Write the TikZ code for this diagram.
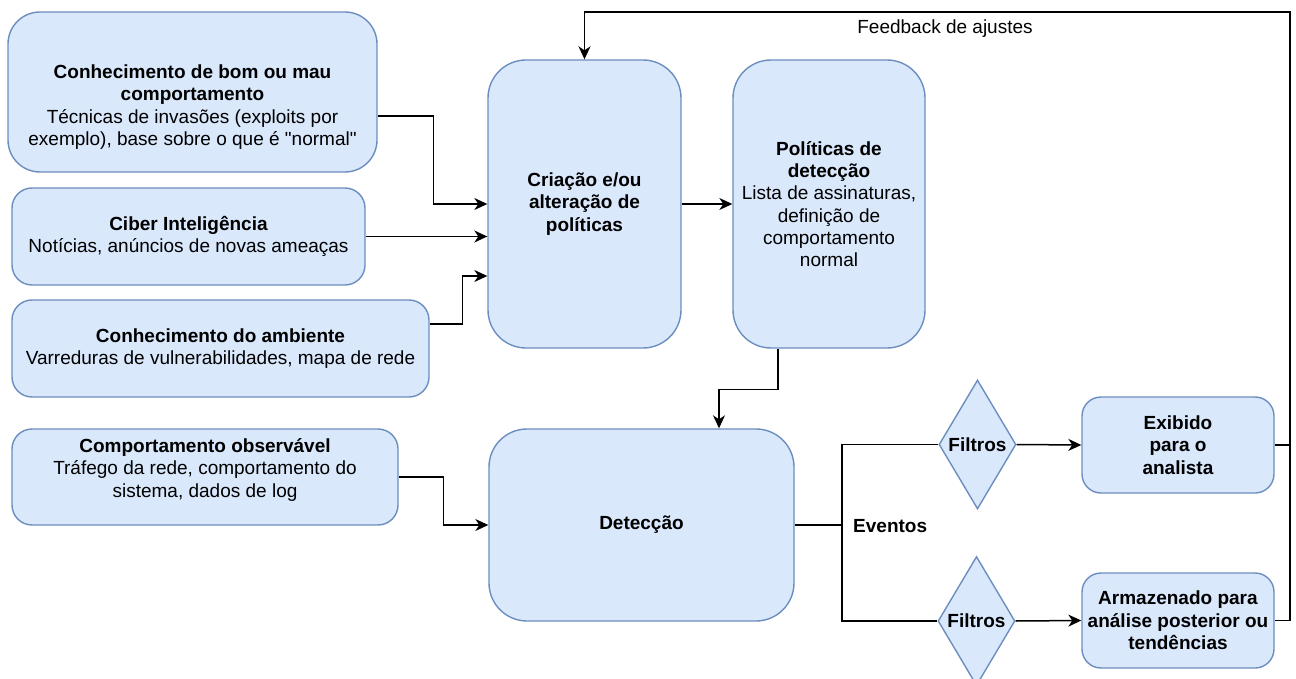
\documentclass[tikz,border=0pt]{standalone}
\usepackage{fontspec}
\setmainfont{Liberation Sans}[Ligatures=TeXOff]
\usetikzlibrary{arrows.meta,shapes.geometric}
\definecolor{bfill}{HTML}{DAE8FC}
\definecolor{bstroke}{HTML}{6C8EBF}
\begin{document}
\begin{tikzpicture}[x=1pt,y=-1pt,
  font=\fontsize{19}{22.3}\selectfont,
  box/.style={draw=bstroke, fill=bfill, line width=1.4pt, align=center, inner sep=0pt},
  dia/.style={draw=bstroke, fill=bfill, line width=1.4pt, shape=diamond, aspect=0.6, inner sep=0pt, minimum width=77pt, minimum height=129pt, font=\fontsize{19}{22.3}\selectfont\bfseries},
  txt/.style={align=center, inner sep=0pt},
  conn/.style={draw=black, line width=1.5pt},
  arr/.style={conn, -{Stealth[length=13pt,width=12pt,inset=4pt]}}]
\useasboundingbox (0,0) rectangle (1296,679);
\clip (0,0) rectangle (1296,679);
\fill[white] (0,0) rectangle (1296,679);

% left boxes
\node[box, rounded corners=32pt, minimum width=369pt, minimum height=160pt] (b1) at (192.5,92) {};
\node[txt] (b1t) at (192.5,107) {\textbf{Conhecimento de bom ou mau}\\\textbf{comportamento}\\Técnicas de invasões (exploits por\\exemplo), base sobre o que é "normal"};
\node[box, rounded corners=20pt, minimum width=353pt, minimum height=97pt] (b2) at (188.5,236.5) {\textbf{Ciber Inteligência}\\ Notícias, anúncios de novas ameaças};
\node[box, rounded corners=20pt, minimum width=417pt, minimum height=97pt] (b3) at (220.5,348.5) {\textbf{Conhecimento do ambiente}\\Varreduras de vulnerabilidades, mapa de rede};
\node[box, rounded corners=20pt, minimum width=386pt, minimum height=96pt] (co) at (205,477) {};
\node[txt] (cot) at (205,470) {\textbf{Comportamento observável}\\Tráfego da rede, comportamento do\\sistema, dados de log};

% central boxes
\node[box, rounded corners=38pt, minimum width=193pt, minimum height=288pt] (cr) at (584.5,204) {\textbf{Criação e/ou}\\\textbf{alteração de}\\\textbf{políticas}};
\node[box, rounded corners=38pt, minimum width=192pt, minimum height=288pt] (po) at (829,204) {\textbf{Políticas de}\\\textbf{detecção}\\Lista de assinaturas,\\definição de\\comportamento\\normal};
\node[box, rounded corners=38pt, minimum width=305pt, minimum height=192pt] (de) at (641.5,525) {\textbf{Detecção}};

% right side
\node[dia] (d1) at (977.5,444.5) {Filtros};
\node[dia] (d2) at (976.5,621) {Filtros};
\node[box, rounded corners=19pt, minimum width=192pt, minimum height=96pt] (ex) at (1178,445) {\textbf{Exibido}\\\textbf{para o}\\\textbf{analista}};
\node[box, rounded corners=19pt, minimum width=192pt, minimum height=95pt] (ar) at (1178,620.5) {\textbf{Armazenado para}\\\textbf{análise posterior ou}\\\textbf{tendências}};

\node[txt, anchor=west] (ev) at (853,526) {\textbf{Eventos}};
\node[txt] (fbl) at (945,29) {Feedback de ajustes};

% connectors
\draw[arr] ([yshift=-24pt]b1.east) -- ++(56,0) |- (cr.west);
\draw[arr] (b2.east) -- (cr.west |- b2.east);
\draw[arr] ([yshift=24.5pt]b3.east) -- ++(33,0) |- ([yshift=-72pt]cr.west);
\draw[arr] (cr.east) -- (po.west);
\draw[arr] ([xshift=-51pt]po.south) -- ++(0,41) -| ([xshift=77.5pt]de.north);
\draw[arr] (co.east) -- ++(45,0) |- (de.west);

\coordinate (j) at (842,525);
\draw[conn] (de.east) -- (j);
\draw[conn] (d1.west) -| (j) |- (d2.west);
\draw[arr] (d1.east) -- (ex.west);
\draw[arr] (d2.east) -- (ar.west);

\coordinate (fb) at (1290,12);
\draw[conn] (ex.east) -- (ex.east -| fb);
\draw[arr] (ar.east) -| (fb) -| (cr.north);
\end{tikzpicture}
\end{document}
